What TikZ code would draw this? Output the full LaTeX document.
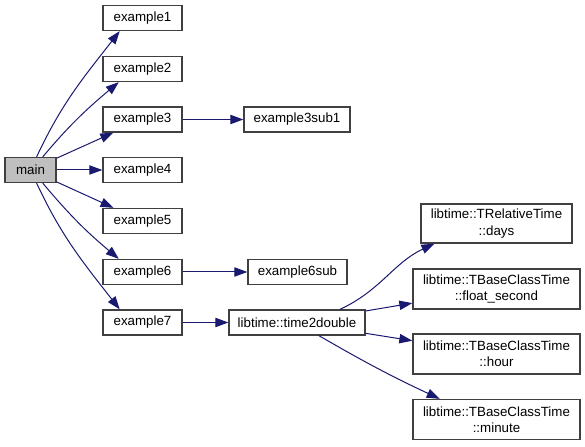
\documentclass[tikz,border=0pt]{standalone}
\usepackage{fontspec}
\setmainfont{Liberation Sans}
\usetikzlibrary{arrows.meta}
\definecolor{edgeblue}{HTML}{191970}
\definecolor{boxline}{HTML}{404040}
\definecolor{mainfill}{HTML}{BFBFBF}

\begin{document}
\begin{tikzpicture}[x=0.75pt,y=0.75pt,
  fn/.style={draw=boxline, line width=1pt, fill=white, minimum height=18.75pt,
    inner sep=1pt, font=\fontsize{10}{12.3}\selectfont, align=center},
  fnlong/.style={fn, minimum height=30pt, minimum width=125.25pt},
  call/.style={draw=edgeblue, line width=0.75pt, -{Triangle[length=9.75pt,width=7pt]}}]

\useasboundingbox (0,0) rectangle (585,446);

\node[fn, fill=mainfill, minimum width=38.25pt] (m) at (30.5,276) {main};
\node[fn, minimum width=59.25pt] (e1) at (142.5,428) {example1};
\node[fn, minimum width=59.25pt] (e2) at (142.5,377) {example2};
\node[fn, minimum width=59.25pt] (e3) at (142.5,326.5) {example3};
\node[fn, minimum width=59.25pt] (e4) at (142.5,276) {example4};
\node[fn, minimum width=59.25pt] (e5) at (142.5,225) {example5};
\node[fn, minimum width=59.25pt] (e6) at (142.5,174) {example6};
\node[fn, minimum width=59.25pt] (e7) at (142.5,123.5) {example7};

\node[fn, minimum width=79.5pt] (s3) at (297,326.5) {example3sub1};
\node[fn, minimum width=74.25pt] (s6) at (297.5,174) {example6sub};
\node[fn, minimum width=102pt] (t) at (297,123.5) {libtime::time2double};

\node[fnlong, minimum width=113.25pt, minimum height=29.25pt] (days) at (496.5,222.5) {libtime::TRelativeTime\\::days};
\node[fnlong] (fs) at (496.5,157) {libtime::TBaseClassTime\\::float\_second};
\node[fnlong] (hr) at (496.5,92) {libtime::TBaseClassTime\\::hour};
\node[fnlong] (mi) at (496.5,26.5) {libtime::TBaseClassTime\\::minute};

\draw[call] (m.65) to[out=65,in=-128] (e1.-150);
\draw[call] (m.47) to[out=50,in=-140] (e2.-151);
\draw[call] (m) -- (e3);
\draw[call] (m) -- (e4);
\draw[call] (m) -- (e5);
\draw[call] (m.-47) to[out=-50,in=140] (e6.151);
\draw[call] (m.-65) to[out=-65,in=128] (e7.150);
\draw[call] (e3) -- (s3);
\draw[call] (e6) -- (s6);
\draw[call] (e7) -- (t);
\draw[call] (t.17) to[out=25,in=-155] (days.-162);
\draw[call] (t) -- (fs);
\draw[call] (t) -- (hr);
\draw[call] (t.-31) to[out=-30,in=155] (mi.160);
\end{tikzpicture}
\end{document}
